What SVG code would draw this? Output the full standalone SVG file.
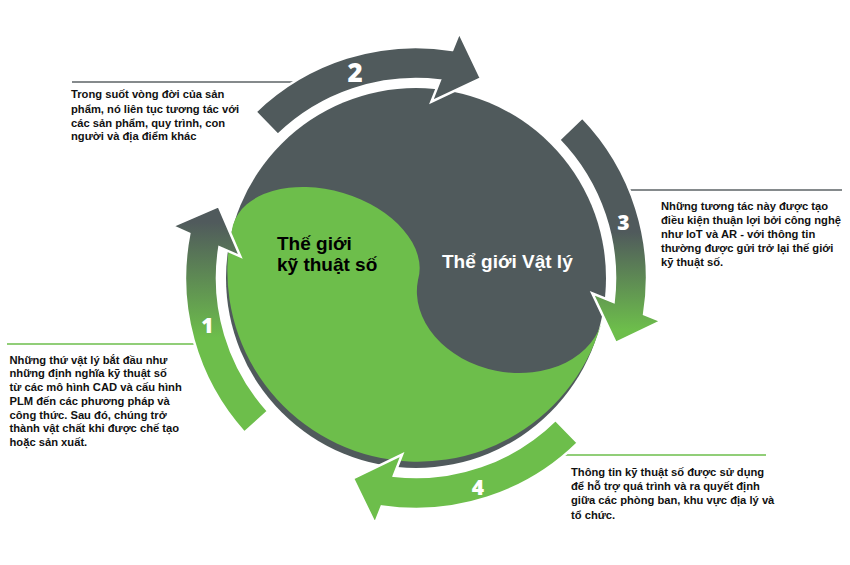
<svg xmlns="http://www.w3.org/2000/svg" width="850" height="565" viewBox="0 0 850 565">
<defs>
<style>
.dark{fill:#505a5c}
.green{fill:#6dbe4b}
.arrow{stroke:#fff;stroke-width:2.5;stroke-linejoin:miter}
.note{font-family:"Liberation Sans",Arial,sans-serif;font-weight:bold;font-size:11.2px;fill:#111}
.num{font-family:"Open Sans","Liberation Sans",sans-serif;font-weight:800;fill:#fff;text-anchor:middle}
.world{font-family:"Liberation Sans",Arial,sans-serif;font-weight:bold;font-size:19px}
.lead-gray{stroke:#5c6366;stroke-width:1.3;fill:none}
.lead-green{stroke:#6dbe4b;stroke-width:1.3;fill:none}
</style>
<linearGradient id="g1" gradientUnits="userSpaceOnUse" x1="0" y1="222" x2="0" y2="338">
<stop offset="0" stop-color="#505a5c"/><stop offset="1" stop-color="#6dbe4b"/>
</linearGradient>
<linearGradient id="g3" gradientUnits="userSpaceOnUse" x1="0" y1="232" x2="0" y2="330">
<stop offset="0" stop-color="#505a5c"/><stop offset="1" stop-color="#6dbe4b"/>
</linearGradient>
</defs>
<rect width="850" height="565" fill="#fff"/>

<g id="world">
<circle class="dark" cx="416" cy="278" r="190"/>
<path class="green" d="M233,225 A190,190 0 1 0 603,317 A94,73.4 11.31 0 1 418,280 A96,61.7 16.56 0 0 233,225 Z"/>
</g>

<g id="connectors">
<line class="lead-gray" x1="72" y1="82" x2="298" y2="82"/>
<line class="lead-gray" x1="626" y1="190" x2="842" y2="190"/>
<line class="lead-green" x1="7" y1="344" x2="198" y2="344"/>
<line class="lead-green" x1="560" y1="455" x2="766" y2="455"/>
<path id="arrow-1" class="arrow" fill="url(#g1)" d="M244.3,432.6 A231,231 0 0 1 189.3,233.8 L172.4,226.2 L218.7,206.2 L240.3,256.4 L219.4,247.2 A199,199 0 0 0 268.1,411.2 Z"/>
<path id="arrow-2" class="arrow dark" d="M255.5,111.8 A231,231 0 0 1 452.3,49.9 L459.2,32.8 L480.9,78.3 L431.4,101.7 L439.9,80.4 A199,199 0 0 0 277.8,134.9 Z"/>
<path id="arrow-3" class="arrow" fill="url(#g3)" d="M582.2,117.5 A231,231 0 0 1 644.1,314.3 L661.2,321.2 L615.7,342.9 L592.3,293.4 L613.6,301.9 A199,199 0 0 0 559.1,139.8 Z"/>
<path id="arrow-4" class="arrow green" d="M577.9,442.8 A231,231 0 0 1 381.7,506.4 L374.9,523.6 L352.9,478.3 L402.1,454.5 L393.8,475.8 A199,199 0 0 0 555.5,419.9 Z"/>
</g>

<g id="node-digital">
<text class="world" fill="#000" x="277" y="249.5">Thế giới</text>
<text class="world" fill="#000" x="277" y="270.5">kỹ thuật số</text>
</g>
<g id="node-physical">
<text class="world" fill="#fff" x="442" y="267.5">Thể giới Vật lý</text>
</g>

<g id="step-1">
<text class="num" x="207.5" y="333" font-size="21">1</text>
<text class="note" x="9.5" y="363.5">Những thứ vật lý bắt đầu như</text>
<text class="note" x="9.5" y="377.3">những định nghĩa kỹ thuật số</text>
<text class="note" x="9.5" y="391">từ các mô hình CAD và cấu hình</text>
<text class="note" x="9.5" y="404.8">PLM đến các phương pháp và</text>
<text class="note" x="9.5" y="418.5">công thức. Sau đó, chúng trở</text>
<text class="note" x="9.5" y="432.3">thành vật chất khi được chế tạo</text>
<text class="note" x="9.5" y="446">hoặc sản xuất.</text>
</g>
<g id="step-2">
<text class="num" x="355" y="82" font-size="26">2</text>
<text class="note" x="71" y="98.3">Trong suốt vòng đời của sản</text>
<text class="note" x="71" y="112.5">phẩm, nó liên tục tương tác với</text>
<text class="note" x="71" y="126.5">các sản phẩm, quy trình, con</text>
<text class="note" x="71" y="140.3">người và địa điểm khác</text>
</g>
<g id="step-3">
<text class="num" x="623.5" y="230" font-size="21">3</text>
<text class="note" x="661" y="209.5">Những tương tác này được tạo</text>
<text class="note" x="661" y="223.5">điều kiện thuận lợi bởi công nghệ</text>
<text class="note" x="661" y="237.5">như IoT và AR - với thông tin</text>
<text class="note" x="661" y="251.5">thường được gửi trở lại thế giới</text>
<text class="note" x="661" y="265.5">kỹ thuật số.</text>
</g>
<g id="step-4">
<text class="num" x="478" y="494.5" font-size="21">4</text>
<text class="note" x="571" y="475.7">Thông tin kỹ thuật số được sử dụng</text>
<text class="note" x="571" y="490">để hỗ trợ quá trình và ra quyết định</text>
<text class="note" x="571" y="504.3">giữa các phòng ban, khu vực địa lý và</text>
<text class="note" x="571" y="518.6">tổ chức.</text>
</g>
</svg>
